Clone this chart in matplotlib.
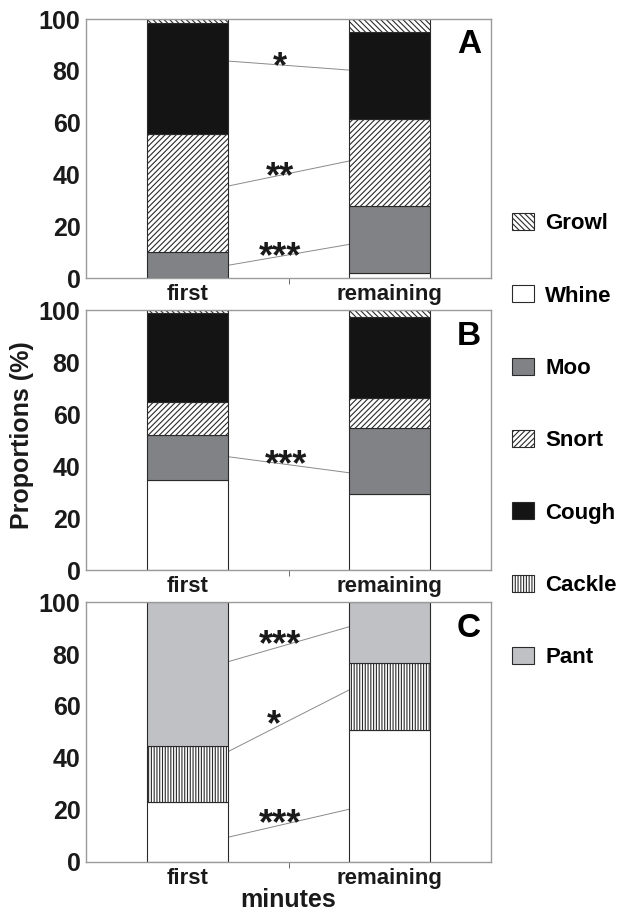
import matplotlib.pyplot as plt
from matplotlib.patches import Patch

plt.rcParams["font.family"] = ["Liberation Sans", "DejaVu Sans"]
plt.rcParams["font.weight"] = "bold"
plt.rcParams["hatch.linewidth"] = 0.8

groups = ["first", "remaining"]

# stacked proportions (%), bottom to top
panel_a = {
    "Whine": [0.0, 2.0],
    "Moo": [9.9, 25.8],
    "Snort": [45.6, 33.8],
    "Cough": [42.8, 33.3],
    "Growl": [1.7, 5.1],
}
panel_b = {
    "Whine": [34.5, 29.1],
    "Moo": [17.3, 25.6],
    "Snort": [12.9, 11.6],
    "Cough": [34.0, 31.1],
    "Growl": [1.3, 2.6],
}
panel_c = {
    "Whine": [23.2, 50.7],
    "Cackle": [21.4, 26.0],
    "Pant": [55.4, 23.3],
}

# significance links: y at first bar, y at remaining bar, label, label x, label top
links_a = [(83.8, 80.3, "*", 0.46, 88.0), (35.5, 45.2, "**", 0.46, 45.5), (4.9, 13.0, "***", 0.46, 14.5)]
links_b = [(43.6, 37.4, "***", 0.49, 47.0)]
links_c = [(77.0, 90.5, "***", 0.46, 90.0), (42.4, 66.2, "*", 0.43, 59.0), (9.5, 20.3, "***", 0.46, 21.0)]

styles = {
    "Growl": dict(facecolor="white", hatch="\\\\\\\\\\\\"),
    "Whine": dict(facecolor="white", hatch=None),
    "Moo": dict(facecolor="#808285", hatch=None),
    "Snort": dict(facecolor="white", hatch="//////"),
    "Cough": dict(facecolor="#141414", hatch=None),
    "Cackle": dict(facecolor="white", hatch="||||||"),
    "Pant": dict(facecolor="#c0c1c4", hatch=None),
}

fig = plt.figure(figsize=(6.29, 9.17), dpi=100)
boxes = [(0.1367, 0.6968, 0.644, 0.2824), (0.1367, 0.3784, 0.644, 0.2835), (0.1367, 0.0600, 0.644, 0.2835)]
panels = [(panel_a, links_a, "A"), (panel_b, links_b, "B"), (panel_c, links_c, "C")]

x = [0, 1]
for box, (data, links, letter) in zip(boxes, panels):
    ax = fig.add_axes(box)
    bottom = [0.0, 0.0]
    for name, vals in data.items():
        st = styles[name]
        ax.bar(x, vals, width=0.4, bottom=bottom, facecolor=st["facecolor"],
               hatch=st["hatch"], edgecolor="#2a2a2a", linewidth=0.8, zorder=2)
        bottom = [b + v for b, v in zip(bottom, vals)]
    for y0, y1, lab, lx, ly in links:
        ax.plot([0.2, 0.8], [y0, y1], color="#8a8a8a", lw=0.7, zorder=1)
        ax.text(lx, ly, lab, ha="center", va="top", fontsize=26, color="#1a1a1a")
    ax.text(1.39, 90, letter, ha="center", va="center", fontsize=24, color="black")
    ax.set_xlim(-0.5, 1.5)
    ax.set_ylim(0, 100)
    ax.set_yticks(range(0, 101, 20))
    ax.set_xticks(x)
    ax.set_xticklabels(groups, fontsize=16, color="#1a1a1a")
    ax.set_xticks([0.5], minor=True)
    ax.tick_params(axis="x", which="major", length=0, pad=4)
    ax.tick_params(axis="x", which="minor", length=4, color="#555555", direction="out")
    ax.tick_params(axis="y", length=0, labelsize=18, labelcolor="#1a1a1a", pad=4)
    for s in ax.spines.values():
        s.set_color("#9a9a9a")
        s.set_linewidth(1.0)

fig.text(0.035, 0.526, "Proportions (%)", rotation=90, ha="center", va="center",
         fontsize=18, color="#1a1a1a")
fig.text(0.458, 0.0185, "minutes", ha="center", va="center", fontsize=18, color="#1a1a1a")

legend_names = ["Growl", "Whine", "Moo", "Snort", "Cough", "Cackle", "Pant"]
handles = [Patch(facecolor=styles[n]["facecolor"], hatch=styles[n]["hatch"],
                 edgecolor="#2a2a2a", linewidth=0.8, label=n) for n in legend_names]
fig.legend(handles=handles, loc="upper left", bbox_to_anchor=(512 / 629, 1 - 213 / 917),
           frameon=False, fontsize=16, handlelength=1.0, handleheight=0.8,
           handletextpad=0.5, labelspacing=2.3, borderpad=0, borderaxespad=0)

fig.savefig("out.png", dpi=100)
